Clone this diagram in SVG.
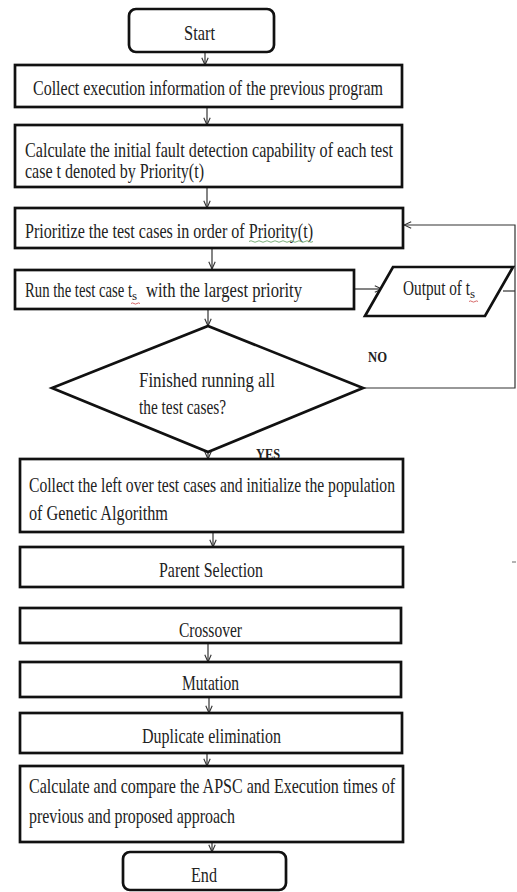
<svg xmlns="http://www.w3.org/2000/svg" width="517" height="892" viewBox="0 0 517 892">
<style>
.box{fill:#fff;stroke:#111;stroke-width:2.7}
.t{font-family:"Liberation Serif","Times New Roman",serif;font-size:21px;fill:#222}
.lbl{font-family:"Liberation Serif","Times New Roman",serif;font-weight:bold;fill:#222}
.sub{font-family:"Liberation Serif","Times New Roman",serif;font-size:13px;fill:#222}
.con{fill:none;stroke:#333;stroke-width:1.2}
.sq{fill:none;stroke-width:0.8}
</style>
<defs>
<marker id="arr" viewBox="0 0 10 10" refX="10" refY="5" markerWidth="8" markerHeight="8" markerUnits="userSpaceOnUse" orient="auto">
<path d="M1,1 L10,5 L1,9" fill="none" stroke="#333" stroke-width="1.4"/>
</marker>
</defs>
<rect width="517" height="892" fill="#fff"/>
<g id="connectors">
<line class="con" x1="205" y1="52" x2="205" y2="65" marker-end="url(#arr)"/>
<line class="con" x1="207" y1="107" x2="207" y2="125" marker-end="url(#arr)"/>
<line class="con" x1="207" y1="187" x2="207" y2="208" marker-end="url(#arr)"/>
<line class="con" x1="212" y1="248" x2="212" y2="269" marker-end="url(#arr)"/>
<line class="con" x1="208" y1="309" x2="208" y2="326" marker-end="url(#arr)"/>
<line class="con" x1="354" y1="289" x2="382" y2="289" marker-end="url(#arr)"/>
<line class="con" x1="503" y1="291" x2="515" y2="291"/>
<polyline class="con" points="363,388 515,388 515,225 404,225" marker-end="url(#arr)"/>
<line class="con" x1="208" y1="452" x2="208" y2="459" marker-end="url(#arr)"/>
<line class="con" x1="213" y1="532" x2="213" y2="547" marker-end="url(#arr)"/>
<line class="con" x1="208" y1="643" x2="208" y2="662" marker-end="url(#arr)"/>
<line class="con" x1="209" y1="697" x2="209" y2="713" marker-end="url(#arr)"/>
<line class="con" x1="207" y1="753" x2="207" y2="766" marker-end="url(#arr)"/>
<line class="con" x1="212" y1="842" x2="212" y2="852" marker-end="url(#arr)"/>
<line x1="512" y1="562" x2="516" y2="562" stroke="#666" stroke-width="1"/>
</g>
<g id="start">
<rect class="box" x="129" y="9" width="145" height="43" rx="7"/>
<text class="t" x="184" y="40" textLength="31" lengthAdjust="spacingAndGlyphs">Start</text>
</g>
<g id="collect-info">
<rect class="box" x="15" y="65" width="387" height="42"/>
<text class="t" x="33" y="95" textLength="350" lengthAdjust="spacingAndGlyphs">Collect execution information of the previous program</text>
</g>
<g id="calc-initial">
<rect class="box" x="15" y="125" width="387" height="62"/>
<text class="t" x="25" y="157" textLength="368" lengthAdjust="spacingAndGlyphs">Calculate the initial fault detection capability of each test</text>
<text class="t" x="25" y="178" textLength="179" lengthAdjust="spacingAndGlyphs">case t denoted by Priority(t)</text>
</g>
<g id="prioritize">
<rect class="box" x="15" y="208" width="388" height="40"/>
<text class="t" x="25" y="238" textLength="288" lengthAdjust="spacingAndGlyphs">Prioritize the test cases in order of Priority(t)</text>
<path class="sq" d="M249,241.5 q2,-1.5 4,0 t4,0 t4,0 t4,0 t4,0 t4,0 t4,0 t4,0 t4,0 t4,0 t4,0 t4,0 t4,0 t4,0 t4,0 t4,0" stroke="#5a9a5a"/>
</g>
<g id="run-test">
<rect class="box" x="15" y="270" width="339" height="39"/>
<text class="t" x="25" y="297" textLength="107" lengthAdjust="spacingAndGlyphs">Run the test case t</text>
<text class="sub" x="132" y="300">s</text>
<text class="t" x="146" y="297" textLength="156" lengthAdjust="spacingAndGlyphs">with the largest priority</text>
<path class="sq" d="M131,303.5 q1.5,-1.2 3,0 t3,0 t3,0" stroke="#c44"/>
</g>
<g id="output">
<polygon class="box" points="393,267 513,267 485,316 365,316"/>
<text class="t" x="403" y="295" textLength="67" lengthAdjust="spacingAndGlyphs">Output of t</text>
<text class="sub" x="470" y="298">s</text>
<path class="sq" d="M469,301.5 q1.5,-1.2 3,0 t3,0 t3,0" stroke="#c44"/>
</g>
<g id="decision">
<polygon class="box" points="208,326 363,388 208,452 52,388"/>
<text class="t" x="139" y="387" textLength="136" lengthAdjust="spacingAndGlyphs">Finished  running  all</text>
<text class="t" x="139" y="414" textLength="87" lengthAdjust="spacingAndGlyphs">the test cases?</text>
<text class="lbl" x="368" y="362" font-size="14" textLength="19" lengthAdjust="spacingAndGlyphs">NO</text>
<text class="lbl" x="256" y="459" font-size="15" textLength="24" lengthAdjust="spacingAndGlyphs">YES</text>
</g>
<g id="collect-left">
<rect class="box" x="20" y="459" width="383" height="73"/>
<text class="t" x="29" y="492" textLength="366" lengthAdjust="spacingAndGlyphs">Collect the left over test cases and initialize the population</text>
<text class="t" x="29" y="520" textLength="139" lengthAdjust="spacingAndGlyphs">of Genetic Algorithm</text>
</g>
<g id="parent-selection">
<rect class="box" x="20" y="547" width="383" height="40"/>
<text class="t" x="159" y="577" textLength="104" lengthAdjust="spacingAndGlyphs">Parent Selection</text>
</g>
<g id="crossover">
<rect class="box" x="20" y="608" width="381" height="35"/>
<text class="t" x="179" y="637" textLength="63" lengthAdjust="spacingAndGlyphs">Crossover</text>
</g>
<g id="mutation">
<rect class="box" x="20" y="662" width="381" height="35"/>
<text class="t" x="182" y="690" textLength="57" lengthAdjust="spacingAndGlyphs">Mutation</text>
</g>
<g id="duplicate">
<rect class="box" x="20" y="713" width="382" height="40"/>
<text class="t" x="142" y="743" textLength="139" lengthAdjust="spacingAndGlyphs">Duplicate elimination</text>
</g>
<g id="compare">
<rect class="box" x="20" y="766" width="383" height="76"/>
<text class="t" x="29" y="793" textLength="366" lengthAdjust="spacingAndGlyphs">Calculate and compare the APSC and Execution times of</text>
<text class="t" x="29" y="823" textLength="206" lengthAdjust="spacingAndGlyphs">previous and proposed approach</text>
</g>
<g id="end">
<rect class="box" x="123" y="852" width="163" height="38" rx="7"/>
<text class="t" x="191" y="882" textLength="26" lengthAdjust="spacingAndGlyphs">End</text>
</g>
</svg>
